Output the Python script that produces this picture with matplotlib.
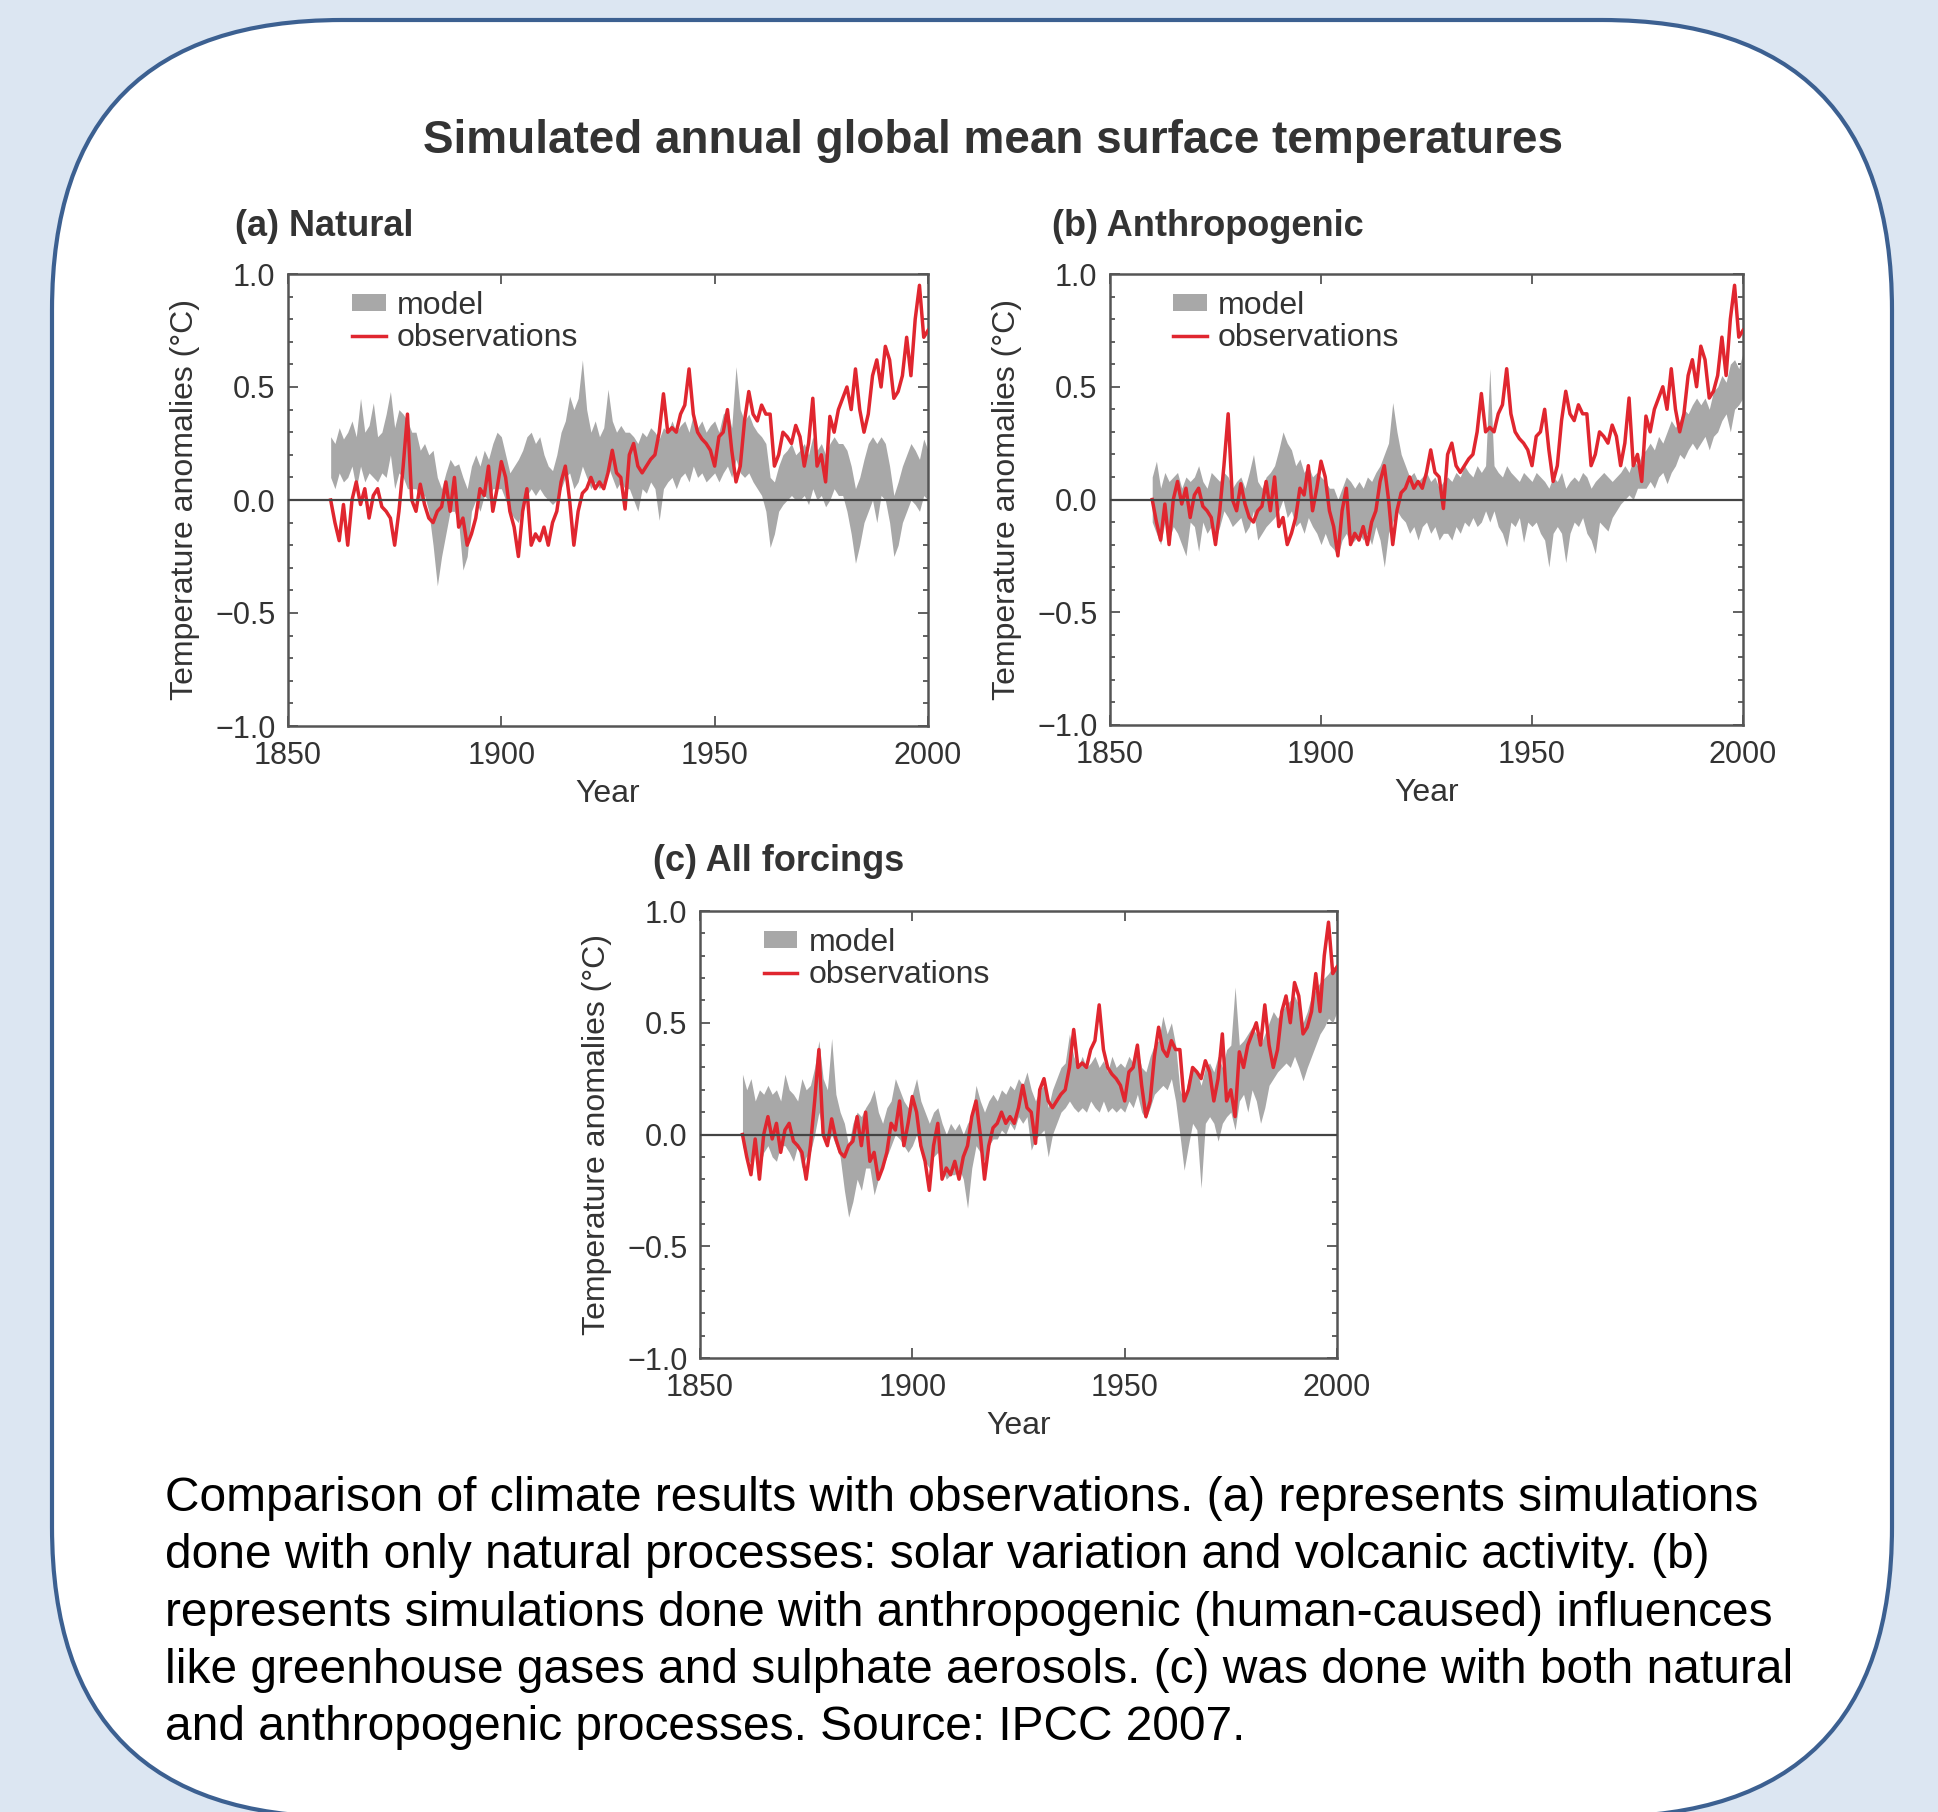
import matplotlib
matplotlib.use("Agg")
import matplotlib.pyplot as plt
from matplotlib.patches import FancyBboxPatch, Patch
from matplotlib.lines import Line2D
from matplotlib.ticker import MultipleLocator, FixedLocator, FuncFormatter

plt.rcParams['font.family'] = ['Liberation Sans', 'DejaVu Sans']

W, H, DPI = 1938, 1812, 100

# ---------------- data ----------------
years = list(range(1860, 2001))

obs = [0.00, -0.10, -0.18, -0.02, -0.20, 0.00, 0.08, -0.02, 0.05, -0.08,
       0.02, 0.05, -0.03, -0.05, -0.08, -0.20, -0.05, 0.15, 0.38, 0.00,
       -0.05, 0.07, -0.02, -0.08, -0.10, -0.05, -0.03, 0.08, -0.05, 0.10,
       -0.12, -0.08, -0.20, -0.15, -0.08, 0.05, 0.02, 0.15, -0.05, 0.05,
       0.17, 0.10, -0.05, -0.12, -0.25, -0.05, 0.05, -0.20, -0.15, -0.18,
       -0.12, -0.20, -0.10, -0.05, 0.08, 0.15, 0.00, -0.20, -0.05, 0.03,
       0.05, 0.10, 0.05, 0.08, 0.05, 0.12, 0.22, 0.12, 0.10, -0.04,
       0.20, 0.25, 0.15, 0.12, 0.15, 0.18, 0.20, 0.30, 0.47, 0.30,
       0.32, 0.30, 0.38, 0.42, 0.58, 0.38, 0.30, 0.27, 0.25, 0.22,
       0.15, 0.28, 0.30, 0.40, 0.22, 0.08, 0.15, 0.35, 0.48, 0.38,
       0.35, 0.42, 0.38, 0.38, 0.15, 0.20, 0.30, 0.28, 0.25, 0.33,
       0.28, 0.15, 0.25, 0.45, 0.15, 0.20, 0.08, 0.37, 0.30, 0.40,
       0.45, 0.50, 0.40, 0.58, 0.40, 0.30, 0.38, 0.55, 0.62, 0.50,
       0.68, 0.62, 0.45, 0.48, 0.55, 0.72, 0.55, 0.80, 0.95, 0.72,
       0.75]

# (a) Natural forcing model range
nat_hi = [0.28, 0.25, 0.32, 0.27, 0.30, 0.35, 0.28, 0.45, 0.30, 0.33,
          0.43, 0.28, 0.30, 0.38, 0.48, 0.32, 0.40, 0.38, 0.35, 0.30,
          0.30, 0.22, 0.25, 0.20, 0.22, 0.10, 0.05, 0.12, 0.18, 0.15,
          0.16, 0.10, 0.05, 0.15, 0.20, 0.15, 0.22, 0.18, 0.25, 0.30,
          0.28, 0.20, 0.12, 0.15, 0.18, 0.22, 0.28, 0.30, 0.25, 0.28,
          0.20, 0.15, 0.13, 0.20, 0.30, 0.35, 0.46, 0.40, 0.45, 0.62,
          0.40, 0.30, 0.35, 0.28, 0.32, 0.49, 0.35, 0.30, 0.33, 0.30,
          0.30, 0.28, 0.25, 0.30, 0.28, 0.32, 0.30, 0.27, 0.32, 0.30,
          0.35, 0.30, 0.33, 0.35, 0.30, 0.38, 0.32, 0.35, 0.30, 0.33,
          0.35, 0.30, 0.38, 0.40, 0.32, 0.59, 0.40, 0.35, 0.38, 0.33,
          0.30, 0.28, 0.25, 0.10, 0.08, 0.15, 0.20, 0.22, 0.25, 0.20,
          0.22, 0.25, 0.20, 0.28, 0.22, 0.25, 0.20, 0.25, 0.28, 0.25,
          0.25, 0.22, 0.15, 0.05, 0.10, 0.18, 0.25, 0.28, 0.25, 0.28,
          0.25, 0.15, 0.02, 0.08, 0.15, 0.20, 0.25, 0.22, 0.18, 0.27,
          0.22]
nat_lo = [0.10, 0.05, 0.12, 0.08, 0.10, 0.15, 0.05, 0.15, 0.08, 0.12,
          0.10, 0.08, 0.12, 0.10, 0.20, 0.05, 0.12, 0.10, 0.05, 0.05,
          0.05, 0.00, 0.02, -0.05, -0.20, -0.38, -0.25, -0.15, -0.05, -0.05,
          -0.10, -0.31, -0.25, -0.05, 0.00, -0.05, 0.02, 0.00, 0.05, 0.05,
          0.05, 0.00, -0.05, -0.08, -0.10, -0.03, 0.02, 0.05, 0.02, 0.05,
          0.02, 0.00, -0.02, 0.00, 0.05, 0.10, 0.12, 0.05, 0.08, 0.15,
          0.10, 0.05, 0.08, 0.05, 0.08, 0.15, 0.10, 0.05, 0.08, 0.05,
          0.05, 0.00, -0.05, 0.05, 0.03, 0.08, 0.05, -0.09, 0.05, 0.08,
          0.10, 0.05, 0.10, 0.12, 0.08, 0.15, 0.10, 0.12, 0.08, 0.10,
          0.12, 0.08, 0.12, 0.15, 0.10, 0.18, 0.12, 0.10, 0.12, 0.08,
          0.05, 0.02, -0.05, -0.21, -0.15, -0.05, -0.02, 0.00, 0.02, 0.00,
          0.00, 0.02, -0.02, 0.05, 0.00, 0.02, -0.03, 0.00, 0.05, 0.02,
          0.02, -0.05, -0.15, -0.28, -0.20, -0.10, -0.05, 0.00, -0.10, 0.02,
          0.00, -0.10, -0.25, -0.20, -0.10, -0.05, 0.00, -0.02, -0.05, 0.02,
          0.00]

# (b) Anthropogenic forcing model range
ant_hi = [0.10, 0.17, 0.05, 0.12, 0.08, 0.10, 0.12, 0.05, 0.10, 0.08,
          0.10, 0.15, 0.08, 0.05, 0.12, 0.10, 0.08, 0.12, 0.10, 0.05,
          0.08, 0.10, 0.05, 0.12, 0.20, 0.08, 0.05, 0.10, 0.12, 0.15,
          0.22, 0.30, 0.25, 0.22, 0.15, 0.18, 0.12, 0.15, 0.10, 0.12,
          0.10, 0.08, 0.05, 0.05, 0.00, 0.05, 0.10, 0.08, 0.05, 0.08,
          0.05, 0.10, 0.08, 0.12, 0.15, 0.20, 0.25, 0.43, 0.30, 0.20,
          0.15, 0.10, 0.12, 0.08, 0.10, 0.12, 0.08, 0.10, 0.05, 0.08,
          0.10, 0.08, 0.12, 0.10, 0.15, 0.12, 0.10, 0.15, 0.12, 0.15,
          0.58, 0.15, 0.12, 0.10, 0.15, 0.12, 0.10, 0.08, 0.12, 0.10,
          0.08, 0.12, 0.10, 0.08, 0.05, 0.10, 0.08, 0.12, 0.05, 0.08,
          0.10, 0.08, 0.12, 0.10, 0.05, 0.08, 0.10, 0.12, 0.10, 0.08,
          0.10, 0.12, 0.15, 0.12, 0.18, 0.15, 0.20, 0.22, 0.25, 0.22,
          0.28, 0.25, 0.30, 0.35, 0.32, 0.35, 0.40, 0.38, 0.42, 0.45,
          0.42, 0.45, 0.40, 0.48, 0.50, 0.55, 0.52, 0.60, 0.62, 0.58,
          0.65]
ant_lo = [-0.10, -0.15, -0.20, -0.10, -0.18, -0.12, -0.15, -0.20, -0.25, -0.10,
          -0.12, -0.23, -0.10, -0.15, -0.12, -0.18, -0.12, -0.05, -0.08, -0.12,
          -0.10, -0.08, -0.15, -0.12, -0.05, -0.18, -0.15, -0.12, -0.10, -0.08,
          -0.05, 0.00, -0.08, -0.05, -0.12, -0.10, -0.15, -0.08, -0.12, -0.15,
          -0.20, -0.15, -0.20, -0.22, -0.25, -0.18, -0.15, -0.20, -0.18, -0.15,
          -0.18, -0.15, -0.20, -0.12, -0.18, -0.30, -0.15, -0.10, -0.05, -0.08,
          -0.10, -0.15, -0.12, -0.18, -0.12, -0.10, -0.15, -0.12, -0.18, -0.15,
          -0.15, -0.18, -0.12, -0.15, -0.10, -0.12, -0.08, -0.12, -0.10, -0.05,
          -0.10, -0.05, -0.12, -0.15, -0.21, -0.10, -0.12, -0.08, -0.19, -0.10,
          -0.12, -0.10, -0.15, -0.18, -0.30, -0.15, -0.12, -0.15, -0.28, -0.15,
          -0.10, -0.12, -0.08, -0.15, -0.18, -0.24, -0.10, -0.12, -0.14, -0.08,
          -0.05, -0.02, 0.00, 0.02, 0.00, 0.05, 0.05, 0.05, 0.08, 0.05,
          0.10, 0.12, 0.07, 0.12, 0.15, 0.20, 0.18, 0.22, 0.25, 0.22,
          0.25, 0.28, 0.22, 0.28, 0.30, 0.35, 0.38, 0.30, 0.40, 0.42,
          0.45]

# (c) All forcings model range
all_hi = [0.27, 0.20, 0.25, 0.15, 0.20, 0.18, 0.22, 0.18, 0.20, 0.15,
          0.27, 0.20, 0.18, 0.15, 0.25, 0.20, 0.22, 0.30, 0.42, 0.25,
          0.20, 0.43, 0.18, 0.10, 0.05, -0.05, 0.05, 0.10, 0.08, 0.12,
          0.15, 0.20, 0.10, 0.05, 0.12, 0.15, 0.25, 0.20, 0.15, 0.12,
          0.18, 0.25, 0.15, 0.10, 0.05, 0.10, 0.12, 0.05, 0.00, 0.05,
          0.02, 0.05, 0.00, 0.05, 0.08, 0.22, 0.15, 0.10, 0.15, 0.18,
          0.15, 0.20, 0.18, 0.22, 0.20, 0.25, 0.22, 0.28, 0.20, 0.15,
          0.20, 0.22, 0.12, 0.20, 0.25, 0.30, 0.32, 0.45, 0.35, 0.30,
          0.35, 0.30, 0.32, 0.35, 0.30, 0.33, 0.28, 0.35, 0.30, 0.32,
          0.30, 0.35, 0.32, 0.38, 0.30, 0.28, 0.35, 0.40, 0.42, 0.53,
          0.45, 0.50, 0.40, 0.20, 0.15, 0.25, 0.30, 0.28, 0.22, 0.30,
          0.32, 0.28, 0.35, 0.30, 0.38, 0.40, 0.66, 0.40, 0.42, 0.45,
          0.48, 0.45, 0.40, 0.45, 0.50, 0.55, 0.52, 0.55, 0.58, 0.60,
          0.62, 0.58, 0.50, 0.55, 0.62, 0.65, 0.68, 0.70, 0.72, 0.75,
          0.75]
all_lo = [-0.05, -0.10, -0.13, -0.05, -0.15, -0.08, -0.05, -0.10, -0.12, -0.05,
          -0.05, -0.08, -0.12, -0.05, -0.15, -0.10, -0.08, 0.00, 0.10, 0.00,
          -0.05, 0.00, -0.05, -0.10, -0.25, -0.37, -0.30, -0.20, -0.25, -0.15,
          -0.15, -0.27, -0.20, -0.15, -0.10, -0.05, 0.00, -0.02, -0.05, -0.08,
          -0.05, 0.00, -0.08, -0.12, -0.15, -0.10, -0.08, -0.15, -0.20, -0.18,
          -0.18, -0.15, -0.20, -0.33, -0.15, -0.05, -0.08, -0.12, -0.05, -0.02,
          -0.02, 0.02, 0.00, 0.05, 0.02, 0.08, 0.05, 0.08, -0.07, -0.02,
          0.00, 0.02, -0.10, 0.00, 0.05, 0.10, 0.12, 0.15, 0.12, 0.10,
          0.12, 0.10, 0.15, 0.12, 0.10, 0.15, 0.10, 0.12, 0.10, 0.12,
          0.10, 0.15, 0.12, 0.18, 0.10, 0.07, 0.12, 0.18, 0.20, 0.22,
          0.20, 0.25, 0.15, 0.00, -0.16, -0.05, 0.05, 0.02, -0.24, 0.05,
          0.08, 0.05, -0.03, 0.05, 0.08, 0.10, 0.02, 0.15, 0.18, 0.10,
          0.20, 0.15, 0.05, 0.12, 0.22, 0.25, 0.28, 0.30, 0.32, 0.30,
          0.35, 0.30, 0.24, 0.30, 0.35, 0.40, 0.45, 0.48, 0.52, 0.50,
          0.55]

panel_titles = ["(a) Natural", "(b) Anthropogenic", "(c) All forcings"]
x_ticks = [1850, 1900, 1950, 2000]
y_ticks = [-1.0, -0.5, 0.0, 0.5, 1.0]
legend_labels = ["model", "observations"]
main_title = "Simulated annual global mean surface temperatures"
caption_lines = [
    "Comparison of climate results with observations. (a) represents simulations",
    "done with only natural processes: solar variation and volcanic activity. (b)",
    "represents simulations done with anthropogenic (human-caused) influences",
    "like greenhouse gases and sulphate aerosols. (c) was done with both natural",
    "and anthropogenic processes. Source: IPCC 2007.",
]

# ---------------- style ----------------
BG = '#DCE6F2'
EDGE = '#3C6091'
GRAY = '#a8a8a8'
RED = '#e0262f'
TXT = '#333333'
SPINE = '#555555'

fig = plt.figure(figsize=(W / DPI, H / DPI), dpi=DPI, facecolor=BG)

# background rounded panel (pixel coordinates)
bg = fig.add_axes([0, 0, 1, 1])
bg.set_xlim(0, W)
bg.set_ylim(H, 0)
bg.axis('off')
bg.add_patch(FancyBboxPatch((52, 20), 1840, 1797,
                            boxstyle="round,pad=0,rounding_size=290",
                            facecolor='white', edgecolor=EDGE, linewidth=3.0))


def fx(px):
    return px / W


def fy(py):
    return 1 - py / H


axes_px = [(288, 274, 928, 726), (1110, 274, 1743, 725), (700, 911, 1337, 1358)]
lows = [nat_lo, ant_lo, all_lo]
highs = [nat_hi, ant_hi, all_hi]
title_pos = [(235, 226), (1052, 226), (653, 861)]

fmt = FuncFormatter(lambda v, p: f"{v:.1f}".replace('-', '\u2212'))

for i, (l, t, r, b) in enumerate(axes_px):
    ax = fig.add_axes([fx(l), fy(b), (r - l) / W, (b - t) / H])
    ax.fill_between(years, lows[i], highs[i], color=GRAY, linewidth=0, zorder=2)
    ax.plot(years, obs, color=RED, linewidth=2.5, zorder=3)
    ax.axhline(0, color='#444444', linewidth=1.6, zorder=4)
    ax.set_xlim(1850, 2000)
    ax.set_ylim(-1, 1)
    ax.xaxis.set_major_locator(FixedLocator(x_ticks))
    ax.yaxis.set_major_locator(FixedLocator(y_ticks))
    ax.yaxis.set_minor_locator(MultipleLocator(0.1))
    ax.yaxis.set_major_formatter(fmt)
    ax.tick_params(which='both', direction='in', top=True, right=True,
                   color=SPINE, width=1.3)
    ax.tick_params(which='major', length=7, labelsize=22, labelcolor=TXT, pad=9)
    ax.tick_params(axis='x', which='major', pad=10.5)
    ax.tick_params(which='minor', length=3.5)
    for s in ax.spines.values():
        s.set_color(SPINE)
        s.set_linewidth(1.8)
    ax.set_xlabel("Year", fontsize=23, color=TXT, labelpad=6)
    ax.set_ylabel("Temperature anomalies (\u00b0C)", fontsize=23, color=TXT, labelpad=11)
    handles = [Patch(facecolor=GRAY, edgecolor='none'),
               Line2D([], [], color=RED, linewidth=2.5)]
    ax.legend(handles, legend_labels, loc='upper left', bbox_to_anchor=(0.1, 0.962),
              frameon=False, fontsize=23, borderpad=0, borderaxespad=0,
              labelspacing=0.05, handlelength=1.05, handleheight=0.45,
              handletextpad=0.35, labelcolor=TXT)
    tx, ty = title_pos[i]
    fig.text(fx(tx), fy(ty), panel_titles[i], fontsize=26, fontweight='bold',
             color=TXT, ha='left', va='center')

fig.text(fx(993), fy(141), main_title, fontsize=33, fontweight='bold',
         color=TXT, ha='center', va='center')

baselines = [1511, 1568, 1626, 1683, 1740]
for line, yb in zip(caption_lines, baselines):
    fig.text(fx(165), fy(yb), line, fontsize=34.5, color='black',
             ha='left', va='baseline')

fig.savefig('out.png', dpi=DPI, facecolor=BG)
